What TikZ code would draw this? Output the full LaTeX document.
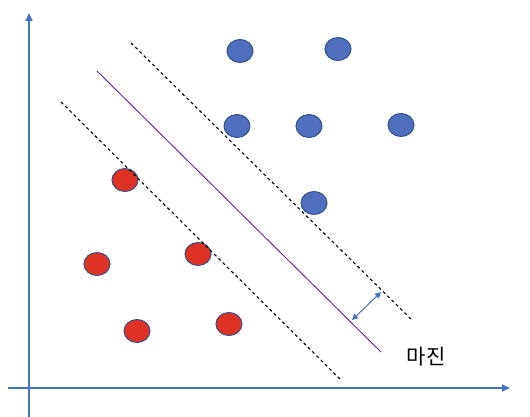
\documentclass[tikz,border=0pt]{standalone}
\usepackage{fontspec}
\usepackage{xcolor}
\usepackage{tikz}
\usetikzlibrary{positioning}
\usetikzlibrary{arrows.meta}
\usetikzlibrary{shapes.geometric}
\newfontfamily\kofont{Noto Sans CJK KR}
\definecolor{axisblue}{RGB}{68, 114, 196}
\definecolor{dotblue}{RGB}{79, 110, 190}
\definecolor{dotred}{RGB}{224, 50, 36}
\definecolor{rimblue}{RGB}{47, 82, 143}
\definecolor{planepurple}{RGB}{112, 48, 160}

\begin{document}
\begin{tikzpicture}[
  x=1pt, y=-1pt,
  dot/.style={ellipse, minimum width=26pt, minimum height=23pt, inner sep=0pt, draw=rimblue, line width=1pt},
  bluedot/.style={dot, fill=dotblue},
  reddot/.style={dot, fill=dotred},
  axis/.style={-{Triangle[length=8pt, width=7pt]}, axisblue, line width=1.6pt},
  bound/.style={dashed, dash pattern=on 3pt off 3pt, line width=1.1pt, black},
  arrow/.style={{Triangle[length=6pt, width=6pt]}-{Triangle[length=6pt, width=6pt]}, axisblue, line width=1pt}
]
\useasboundingbox (0,0) rectangle (530,417);

% Axes
\coordinate (xstart) at (8,388);
\coordinate (xend)   at (510,388);
\coordinate (ystart) at (29,417);
\coordinate (yend)   at (29,13);
\draw[axis] (xstart) -- (xend);
\draw[axis] (ystart) -- (yend);

% Nodes
\node[bluedot] (b1) at (240,51)  {};
\node[bluedot] (b2) at (338,49)  {};
\node[bluedot] (b3) at (237,126) {};
\node[bluedot] (b4) at (309,126) {};
\node[bluedot] (b5) at (401,125) {};
\node[bluedot] (b6) at (314,203) {};

\node[reddot] (r1) at (125,180) {};
\node[reddot] (r2) at (97,264)  {};
\node[reddot] (r3) at (198,254) {};
\node[reddot] (r4) at (137,331) {};
\node[reddot] (r5) at (229,324) {};

% Hyperplane and margins
\coordinate (upA)  at (131,43);
\coordinate (upB)  at (413,321);
\coordinate (midA) at (97,71);
\coordinate (midB) at (381,352);
\coordinate (loA)  at (61,102);
\coordinate (loB)  at (342,381);
\draw[bound] (upA) -- (upB);
\draw[bound] (loA) -- (loB);
\draw[planepurple, line width=1pt] (midA) -- (midB);

% Margin arrow
\coordinate (mA) at (352,320);
\coordinate (mB) at (381,292);
\draw[arrow] (mA) -- (mB);
\node[font=\kofont\fontsize{21}{21}\selectfont] (margin) at (426,357) {마진};

\end{tikzpicture}
\end{document}
